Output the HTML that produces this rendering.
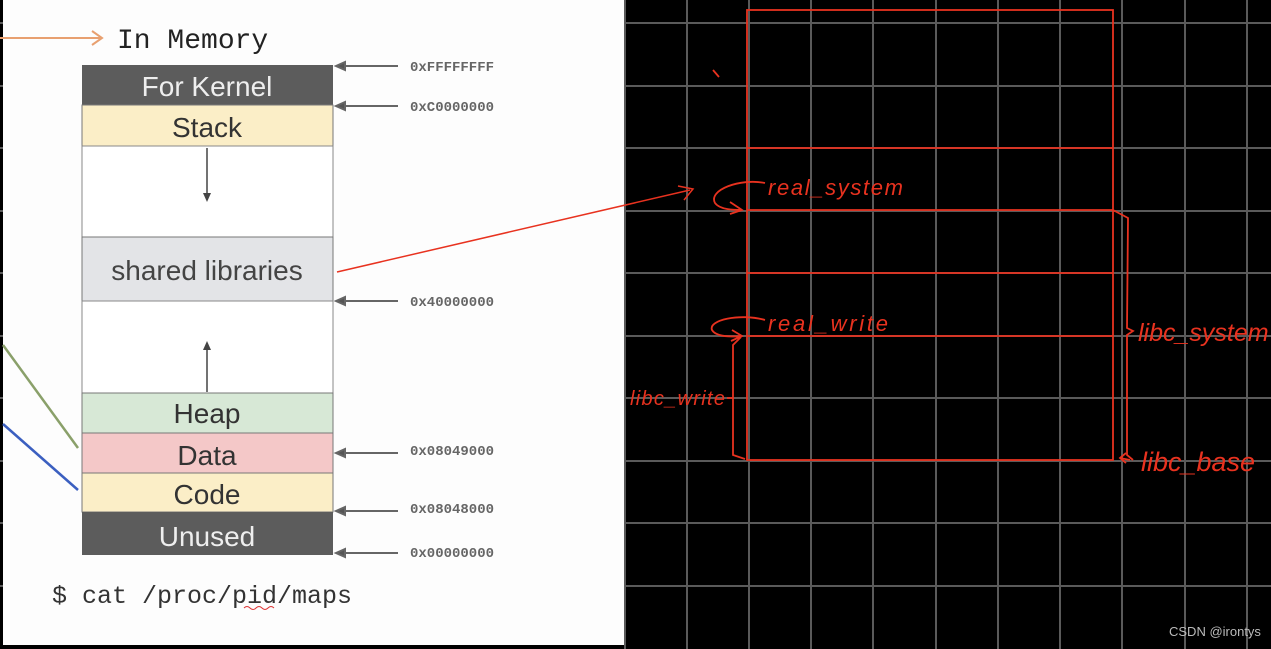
<!DOCTYPE html>
<html><head><meta charset="utf-8"><style>
html,body{margin:0;padding:0;background:#000;width:1271px;height:649px;overflow:hidden}
svg{display:block}
.m{font-family:"Liberation Mono",monospace}
.s{font-family:"Liberation Sans",sans-serif}
.h{font-family:"Liberation Sans",sans-serif;font-style:italic;fill:#e8321f}
</style></head><body>
<svg width="1271" height="649" viewBox="0 0 1271 649">
<rect width="1271" height="649" fill="#000"/>
<g stroke="#5a5a5a" stroke-width="2">
<line x1="625" y1="0" x2="625" y2="649"/>
<line x1="687" y1="0" x2="687" y2="649"/><line x1="749" y1="0" x2="749" y2="649"/><line x1="811" y1="0" x2="811" y2="649"/><line x1="873" y1="0" x2="873" y2="649"/><line x1="936" y1="0" x2="936" y2="649"/><line x1="998" y1="0" x2="998" y2="649"/><line x1="1060" y1="0" x2="1060" y2="649"/><line x1="1122" y1="0" x2="1122" y2="649"/><line x1="1185" y1="0" x2="1185" y2="649"/><line x1="1247" y1="0" x2="1247" y2="649"/>
<line x1="0" y1="23" x2="1271" y2="23"/><line x1="0" y1="86" x2="1271" y2="86"/><line x1="0" y1="148" x2="1271" y2="148"/><line x1="0" y1="211" x2="1271" y2="211"/><line x1="0" y1="273" x2="1271" y2="273"/><line x1="0" y1="336" x2="1271" y2="336"/><line x1="0" y1="398" x2="1271" y2="398"/><line x1="0" y1="461" x2="1271" y2="461"/><line x1="0" y1="523" x2="1271" y2="523"/><line x1="0" y1="586" x2="1271" y2="586"/>
</g>
<rect x="3" y="0" width="621" height="645" fill="#fdfdfd"/>
<line x1="0" y1="38" x2="100" y2="38" stroke="#e8a070" stroke-width="2"/>
<path d="M92 31 L102 38 L92 45" fill="none" stroke="#e8a070" stroke-width="2"/>
<text x="117" y="48" class="m" font-size="28" fill="#222">In Memory</text>
<rect x="82" y="65" width="251" height="40" fill="#5c5c5c"/>
<rect x="82" y="105" width="251" height="41" fill="#fbeec7" stroke="#777"/>
<rect x="82" y="146" width="251" height="91" fill="#fff" stroke="#888"/>
<rect x="82" y="237" width="251" height="64" fill="#e3e4e7" stroke="#777"/>
<rect x="82" y="301" width="251" height="92" fill="#fff" stroke="#888"/>
<rect x="82" y="393" width="251" height="40" fill="#d7e8d6" stroke="#777"/>
<rect x="82" y="433" width="251" height="40" fill="#f4c8c8" stroke="#777"/>
<rect x="82" y="473" width="251" height="39" fill="#fbeec7" stroke="#777"/>
<rect x="82" y="512" width="251" height="43" fill="#5c5c5c"/>
<g class="s" font-size="28" text-anchor="middle">
<text x="207" y="96" fill="#eee">For Kernel</text>
<text x="207" y="137" fill="#333">Stack</text>
<text x="207" y="280" fill="#444">shared libraries</text>
<text x="207" y="423" fill="#333">Heap</text>
<text x="207" y="465" fill="#333">Data</text>
<text x="207" y="504" fill="#333">Code</text>
<text x="207" y="546" fill="#eee">Unused</text>
</g>
<line x1="207" y1="148" x2="207" y2="195" stroke="#444" stroke-width="1.5"/><path d="M203 193 L207 202 L211 193Z" fill="#444"/>
<line x1="207" y1="392" x2="207" y2="348" stroke="#444" stroke-width="1.5"/><path d="M203 350 L207 341 L211 350Z" fill="#444"/>
<g stroke="#666" stroke-width="2" fill="#555">
<line x1="340" y1="66" x2="398" y2="66"/><path d="M336 66 L345 62 L345 70Z"/>
<line x1="340" y1="106" x2="398" y2="106"/><path d="M336 106 L345 102 L345 110Z"/>
<line x1="340" y1="301" x2="398" y2="301"/><path d="M336 301 L345 297 L345 305Z"/>
<line x1="340" y1="453" x2="398" y2="453"/><path d="M336 453 L345 449 L345 457Z"/>
<line x1="340" y1="511" x2="398" y2="511"/><path d="M336 511 L345 507 L345 515Z"/>
<line x1="340" y1="553" x2="398" y2="553"/><path d="M336 553 L345 549 L345 557Z"/>
</g>
<g class="m" font-size="14" fill="#666" font-weight="bold">
<text x="410" y="71">0xFFFFFFFF</text><text x="410" y="111">0xC0000000</text><text x="410" y="306">0x40000000</text>
<text x="410" y="455">0x08049000</text><text x="410" y="513">0x08048000</text><text x="410" y="557">0x00000000</text>
</g>
<line x1="3" y1="345" x2="78" y2="448" stroke="#8aa06a" stroke-width="2.5"/>
<line x1="3" y1="424" x2="78" y2="490" stroke="#3b5fc0" stroke-width="2.5"/>
<text x="52" y="603" class="m" font-size="25" fill="#333">$ cat /proc/pid/maps</text>
<path d="M244 608 q3 -3 6 0 t6 0 t6 0 t6 0 t6 0" fill="none" stroke="#d33" stroke-width="1"/>
<line x1="337" y1="272" x2="690" y2="190" stroke="#e8321f" stroke-width="1.5"/>
<path d="M678 186 L693 189 L684 200" fill="none" stroke="#e8321f" stroke-width="1.5"/>
<g stroke="#e8321f" stroke-width="1.8" fill="none">
<rect x="747" y="10" width="366" height="450"/>
<line x1="747" y1="148" x2="1113" y2="148"/>
<line x1="747" y1="210" x2="1113" y2="210"/>
<line x1="747" y1="273" x2="1113" y2="273"/>
<line x1="747" y1="336" x2="1113" y2="336"/>
<path d="M765 183 C740 178 708 190 715 203 C720 210 735 210 742 210 M730 202 L742 210 L730 214"/>
<path d="M765 320 C740 313 708 320 712 330 C716 337 730 337 742 336 M732 330 L742 336 L731 341"/>
<path d="M1113 210 L1128 218 L1127 328 L1133 331 L1127 335 L1127 455 L1133 460"/>
<path d="M741 337 L733 345 L733 455 L745 459 M733 398 L727 398"/>
<path d="M1130 460 L1120 458 M1126 453 L1120 458 L1126 463"/>
<line x1="713" y1="70" x2="719" y2="77"/>
</g>
<text x="768" y="195" class="h" font-size="22" textLength="135">real_system</text>
<text x="768" y="331" class="h" font-size="22" textLength="120">real_write</text>
<text x="630" y="405" class="h" font-size="20" textLength="95">libc_write</text>
<text x="1138" y="341" class="h" font-size="25">libc_system</text>
<text x="1141" y="471" class="h" font-size="27">libc_base</text>
<text x="1169" y="636" font-family="Liberation Sans,sans-serif" font-size="13" fill="#bbb">CSDN @irontys</text>
</svg>
</body></html>
